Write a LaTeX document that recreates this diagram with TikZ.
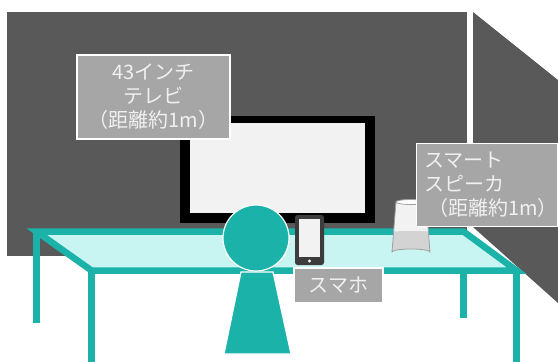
\documentclass[tikz,border=0pt]{standalone}
\usepackage{fontspec}
\setmainfont{Noto Sans CJK JP}
\definecolor{wallgray}{HTML}{595959}
\definecolor{tealmain}{HTML}{1BB3A9}
\definecolor{tabletop}{HTML}{C8F5F2}
\definecolor{tagfill}{HTML}{A6A6A6}
\definecolor{screenfill}{HTML}{F2F2F2}
\definecolor{phonebody}{HTML}{3C3C3C}
\definecolor{speakerlow}{HTML}{D3D3D3}
\definecolor{speakerline}{HTML}{A0A0A0}
\begin{document}
\begin{tikzpicture}[x=1pt,y=-1pt,
  tag/.style={fill=tagfill, draw=white, line width=1.2pt, text=white!94!black,
    font=\fontsize{20}{24}\selectfont, inner sep=0pt},
  tableline/.style={draw=tealmain, line width=6.5pt},
  figure/.style={fill=tealmain, draw=white, line width=1.2pt}]
\useasboundingbox (0,0) rectangle (558,362);
\fill[white] (0,0) rectangle (558,362);

% walls
\fill[wallgray] (7,12) rectangle (467,256);
\fill[wallgray] (473,12) -- (558,80) -- (558,303) -- (473,227) -- cycle;

% television
\node[fill=black, minimum width=195, minimum height=107, inner sep=0pt] (tv) at (277.5,169.5) {};
\node[fill=screenfill, minimum width=175, minimum height=90, inner sep=0pt] (tvscreen) at (277.5,168) {};

% television label
\node[tag, minimum width=153, minimum height=84, align=center] (tvlabel) at (153.5,97)
  {43インチ\\テレビ\\（距離約1m）};

% table: legs, then top
\coordinate (bl) at (36.5,231.5);
\coordinate (br) at (463.5,231.5);
\coordinate (fr) at (516.5,270.5);
\coordinate (fl) at (91.5,270.5);
\coordinate (blfoot) at (36.5,323);
\coordinate (brfoot) at (463.5,318);
\coordinate (flfoot) at (91.5,362);
\coordinate (frfoot) at (516.5,362);
\draw[tableline] (bl) -- (blfoot);
\draw[tableline] (br) -- (brfoot);
\draw[tableline] (fl) -- (flfoot);
\draw[tableline] (fr) -- (frfoot);
\filldraw[fill=tabletop, tableline, line join=miter] (bl) -- (br) -- (fr) -- (fl) -- cycle;

% smart speaker
\begin{scope}
  \path[fill=screenfill] (396,202) -- (392,252) arc[start angle=180, end angle=360, x radius=19, y radius=3] -- (426,202) -- cycle;
  \clip (396,202) -- (392,252) arc[start angle=180, end angle=360, x radius=19, y radius=3] -- (426,202) -- cycle;
  \fill[speakerlow] (380,234) arc[start angle=180, end angle=360, x radius=31, y radius=3] -- (442,260) -- (380,260) -- cycle;
\end{scope}
\draw[speakerline, line width=0.8pt] (396,202) -- (392,252) arc[start angle=180, end angle=360, x radius=19, y radius=3] -- (426,202);
\draw[speakerline, line width=0.8pt, fill=white] (411,202) ellipse[x radius=15, y radius=2.5];
\coordinate (speaker) at (411,228);

% speaker label
\node[tag, anchor=north west, minimum height=83, text width=126, inner xsep=7.5pt, align=left] (speakerlabel) at (416,143)
  {スマート\\スピーカ\\\hspace*{4pt}（距離約1m）};

% smartphone
\node[fill=phonebody, rounded corners=2.5pt, minimum width=29, minimum height=50, inner sep=0pt] (phone) at (309.5,240) {};
\node[fill=screenfill, minimum width=21, minimum height=38, inner sep=0pt] (phonescreen) at (309.5,237.5) {};
\node[circle, fill=white, minimum size=3.4, inner sep=0pt] (homebutton) at (309.5,261) {};

% person
\path[figure] (241,272) -- (273,272) -- (291,354) -- (224,354) -- cycle;
\node[figure, circle, minimum size=66, inner sep=0pt] (head) at (256,238) {};

% phone label
\node[tag, minimum width=89, minimum height=35] (phonelabel) at (338.5,285.5) {スマホ};
\end{tikzpicture}
\end{document}
